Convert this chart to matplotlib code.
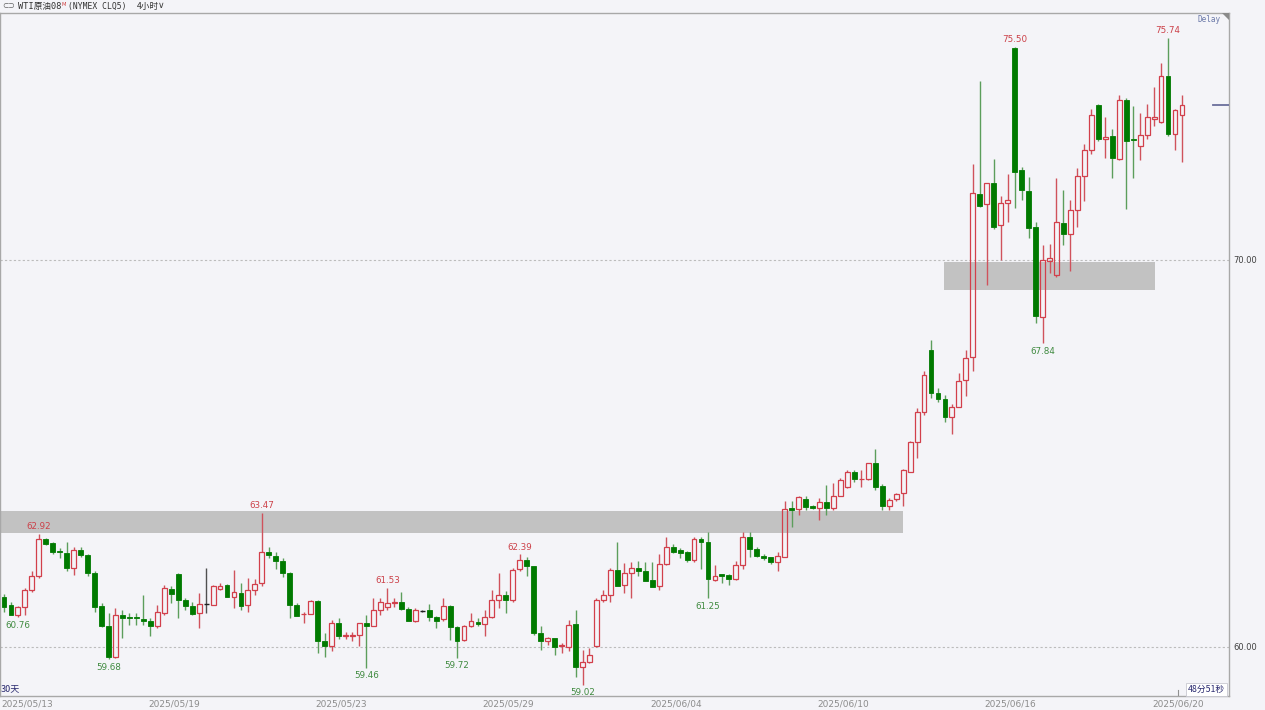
import matplotlib
matplotlib.use("Agg")
from matplotlib import pyplot as plt
from matplotlib.patches import Rectangle, Polygon
import numpy as np

# 4-hour candles, WTI crude, 2025/05/13 - 2025/06/20
opens = [61.30, 61.09, 60.83, 61.04, 61.46, 61.84, 62.78, 62.68, 62.47, 62.42,
         62.03, 62.51, 62.38, 61.91, 61.06, 60.54, 59.75, 60.83, 60.77, 60.77,
         60.72, 60.68, 60.55, 60.87, 61.49, 61.89, 61.20, 61.06, 60.87, 61.11,
         61.09, 61.50, 61.60, 61.30, 61.39, 61.07, 61.47, 61.66, 62.44, 62.35,
         62.22, 61.92, 61.09, 60.84, 60.85, 61.19, 60.14, 60.03, 60.61, 60.28,
         60.29, 60.30, 60.61, 60.54, 60.94, 61.04, 61.13, 61.16, 60.98, 60.68,
         60.93, 60.96, 60.77, 60.72, 61.06, 60.51, 60.18, 60.54, 60.63, 60.58,
         60.77, 61.20, 61.34, 61.20, 62.01, 62.25, 62.09, 60.35, 60.14, 60.23,
         60.03, 59.99, 60.59, 59.48, 59.60, 60.01, 61.22, 61.34, 61.99, 61.60,
         61.92, 62.03, 61.97, 61.73, 61.56, 62.14, 62.59, 62.49, 62.46, 62.25,
         62.78, 62.70, 61.73, 61.87, 61.86, 61.75, 62.12, 62.83, 62.54, 62.35,
         62.32, 62.18, 62.33, 63.58, 63.56, 63.82, 63.64, 63.58, 63.75, 63.58,
         63.90, 64.12, 64.51, 64.33, 64.34, 64.75, 64.16, 63.65, 63.82, 63.97,
         64.53, 65.29, 66.07, 67.67, 66.57, 66.41, 65.94, 66.21, 66.90, 67.49,
         71.71, 71.44, 71.98, 70.89, 71.48, 75.48, 72.31, 71.79, 70.84, 68.52,
         69.98, 69.61, 70.96, 70.67, 71.29, 72.18, 72.84, 74.01, 73.12, 73.20,
         72.60, 74.13, 73.12, 72.95, 73.23, 73.65, 73.57, 74.74, 73.26, 73.75]
highs = [61.36, 61.17, 61.06, 61.53, 61.95, 62.92, 62.82, 62.71, 62.55, 62.70,
         62.59, 62.59, 62.40, 61.95, 61.14, 60.87, 61.00, 60.96, 60.87, 60.87,
         61.34, 60.74, 61.09, 61.60, 61.56, 61.92, 61.26, 61.17, 61.39, 62.03,
         61.60, 61.66, 61.62, 61.99, 61.65, 61.78, 61.75, 63.47, 62.59, 62.46,
         62.29, 61.93, 61.14, 60.91, 61.20, 61.20, 60.37, 60.70, 60.74, 60.39,
         60.39, 60.62, 60.83, 61.26, 61.26, 61.53, 61.26, 61.43, 61.03, 61.00,
         60.96, 61.11, 60.80, 61.26, 61.09, 60.53, 60.57, 60.87, 60.74, 60.96,
         61.47, 61.90, 61.45, 62.03, 62.39, 62.33, 62.10, 60.53, 60.25, 60.24,
         60.10, 60.70, 60.96, 59.92, 59.97, 61.26, 61.47, 62.03, 62.72, 62.16,
         62.20, 62.23, 62.18, 62.18, 62.40, 62.83, 62.65, 62.55, 62.47, 62.83,
         62.83, 62.98, 62.12, 61.89, 61.88, 62.23, 62.98, 62.98, 62.59, 62.40,
         62.33, 62.44, 63.76, 63.78, 63.89, 63.89, 63.67, 63.84, 64.19, 64.23,
         64.36, 64.56, 64.58, 64.58, 64.76, 65.11, 64.20, 63.84, 63.98, 64.60,
         65.31, 66.17, 67.12, 67.93, 66.69, 66.51, 66.28, 67.07, 67.66, 72.48,
         74.61, 71.99, 72.60, 71.64, 72.22, 75.50, 72.41, 72.15, 70.99, 70.39,
         70.41, 72.11, 71.81, 71.55, 72.37, 72.99, 73.89, 74.02, 73.69, 73.38,
         74.27, 74.18, 73.98, 73.79, 74.03, 74.48, 75.08, 75.74, 73.90, 74.27]
lows = [60.91, 60.82, 60.76, 60.83, 61.43, 61.78, 62.62, 62.40, 62.29, 61.95,
        61.86, 62.32, 61.82, 60.91, 60.51, 59.68, 59.71, 60.23, 60.57, 60.57,
        60.57, 60.27, 60.49, 60.83, 61.13, 60.74, 60.96, 60.83, 60.49, 60.87,
        61.09, 61.46, 61.29, 61.00, 60.94, 60.91, 61.34, 61.56, 62.29, 62.01,
        61.80, 60.74, 60.79, 60.61, 60.84, 59.84, 59.75, 59.88, 60.21, 60.20,
        60.14, 60.01, 59.46, 60.53, 60.83, 60.96, 61.04, 60.96, 60.67, 60.63,
        60.89, 60.68, 60.49, 60.66, 60.18, 59.72, 60.16, 60.51, 60.54, 60.28,
        60.74, 61.00, 60.87, 61.17, 61.95, 61.82, 60.31, 59.92, 60.05, 59.79,
        59.84, 59.88, 59.23, 59.02, 59.58, 60.00, 61.17, 61.17, 61.56, 61.40,
        61.26, 61.82, 61.69, 61.54, 61.46, 62.12, 62.42, 62.29, 62.18, 62.20,
        62.00, 61.25, 61.71, 61.65, 61.60, 61.73, 62.01, 62.33, 62.33, 62.25,
        62.14, 61.95, 62.32, 63.11, 63.41, 63.54, 63.56, 63.28, 63.41, 63.54,
        63.89, 64.10, 64.26, 64.13, 64.32, 64.06, 63.54, 63.54, 63.76, 63.63,
        64.51, 64.88, 65.99, 66.43, 66.34, 65.82, 65.50, 66.19, 66.49, 67.12,
        71.36, 69.35, 70.79, 70.00, 70.99, 71.34, 71.55, 70.56, 68.36, 67.84,
        69.66, 69.55, 70.39, 69.70, 70.86, 71.53, 72.74, 73.06, 72.63, 72.11,
        72.58, 71.31, 72.11, 72.58, 73.12, 73.45, 73.53, 73.20, 72.83, 72.54]
closes = [61.04, 60.83, 61.04, 61.46, 61.84, 62.78, 62.66, 62.44, 62.44, 62.03,
          62.49, 62.38, 61.91, 61.04, 60.53, 59.74, 60.83, 60.74, 60.75, 60.74,
          60.68, 60.54, 60.90, 61.52, 61.37, 61.22, 61.06, 60.85, 61.11, 61.11,
          61.56, 61.58, 61.30, 61.41, 61.06, 61.47, 61.62, 62.44, 62.38, 62.22,
          61.90, 61.09, 60.80, 60.86, 61.19, 60.14, 60.03, 60.61, 60.27, 60.30,
          60.31, 60.61, 60.54, 60.96, 61.15, 61.13, 61.17, 60.98, 60.68, 60.96,
          60.93, 60.77, 60.68, 61.06, 60.51, 60.16, 60.54, 60.66, 60.58, 60.77,
          61.20, 61.34, 61.20, 61.99, 62.25, 62.08, 60.35, 60.14, 60.23, 59.99,
          60.05, 60.57, 59.48, 59.60, 59.79, 61.22, 61.34, 61.99, 61.58, 61.92,
          62.03, 61.97, 61.70, 61.55, 62.14, 62.59, 62.46, 62.42, 62.25, 62.78,
          62.70, 61.75, 61.84, 61.84, 61.75, 62.12, 62.83, 62.52, 62.35, 62.29,
          62.20, 62.35, 63.56, 63.54, 63.87, 63.61, 63.60, 63.75, 63.58, 63.90,
          64.30, 64.51, 64.34, 64.35, 64.75, 64.14, 63.64, 63.80, 63.95, 64.58,
          65.29, 66.07, 67.03, 66.57, 66.40, 65.94, 66.21, 66.88, 67.46, 71.73,
          71.40, 71.98, 70.86, 71.48, 71.55, 72.28, 71.81, 70.82, 68.54, 70.00,
          70.04, 70.97, 70.67, 71.29, 72.18, 72.84, 73.75, 73.12, 73.18, 72.63,
          74.13, 73.08, 73.10, 73.23, 73.69, 73.68, 74.74, 73.26, 73.88, 74.01]

date_labels = ["2025/05/13", "2025/05/19", "2025/05/23", "2025/05/29",
               "2025/06/04", "2025/06/10", "2025/06/16", "2025/06/20"]
date_index = [0, 24, 48, 72, 96, 120, 144, 168]

# marked highs / lows (candle index)
high_marks = [5, 37, 55, 74, 145, 167]
low_marks = [2, 15, 52, 65, 83, 101, 149]

# grey zones: candle index span and price range
zone_x0 = [-0.6, 134.9]
zone_x1 = [129.0, 165.1]
zone_lo = [62.95, 69.22]
zone_hi = [63.51, 69.95]

BG = '#f4f4f8'
RED = '#d23f4b'
RED_WICK = '#d0525c'
GREEN = '#007a00'
GREEN_WICK = '#5c9e5c'
CJK = ['Noto Sans CJK SC', 'DejaVu Sans']
MONO = ['DejaVu Sans Mono', 'Noto Sans CJK SC']

W, H = 1265, 710
def px(x, y):
    return x / W, 1 - y / H

fig = plt.figure(figsize=(W / 100, H / 100), dpi=100, facecolor=BG)
ax = fig.add_axes([0, 14 / H, 1229 / W, (696 - 13) / H])
ax.set_facecolor(BG)
ax.set_xlim(-0.57, 175.75)
ax.set_ylim(58.73, 76.38)

for s in ax.spines.values():
    s.set_color('#a8a8a8')
    s.set_linewidth(1.0)

# dashed reference lines
for lvl in [60, 70]:
    ax.axhline(lvl, color='#bcbcbc', lw=0.8, dashes=(2, 2), zorder=1)

# zones
for x0, x1, lo, hi in zip(zone_x0, zone_x1, zone_lo, zone_hi):
    ax.add_patch(Rectangle((x0, lo), x1 - x0, hi - lo, facecolor='#c2c2c2',
                           edgecolor='none', zorder=2))

bw = 0.7
for i in range(len(opens)):
    o, h, l, c = opens[i], highs[i], lows[i], closes[i]
    top, bot = max(o, c), min(o, c)
    if c > o:
        col, wcol = RED, RED_WICK
    elif c < o:
        col, wcol = GREEN, GREEN_WICK
    else:
        col, wcol = '#202020', '#505050'
    ax.vlines(i, top, h, color=wcol, lw=1.0, zorder=3)
    ax.vlines(i, l, bot, color=wcol, lw=1.0, zorder=3)
    if c > o:
        ax.add_patch(Rectangle((i - bw / 2, bot), bw, top - bot, facecolor='none',
                               edgecolor=col, lw=0.9, zorder=4))
    elif c < o:
        ax.add_patch(Rectangle((i - bw / 2, bot), bw, top - bot, facecolor=col,
                               edgecolor=col, lw=0.6, zorder=4))
    else:
        ax.hlines(o, i - bw / 2, i + bw / 2, color=col, lw=1.0, zorder=4)

for i in high_marks:
    ax.annotate('%.2f' % highs[i], (i, highs[i]), xytext=(0, 2), textcoords='offset points',
                ha='center', va='bottom', fontsize=6.3, color='#cc4048', zorder=5)
for i in low_marks:
    ax.annotate('%.2f' % lows[i], (i, lows[i]), xytext=(0, -2.5), textcoords='offset points',
                ha='center', va='top', fontsize=6.3, color='#3f8a3f', zorder=5)

# current price marker
ax.axhline(closes[-1], xmin=1213 / 1229, xmax=1.0, color='#6a6e9c', lw=1.3, zorder=5)

# axes ticks
ax.yaxis.tick_right()
ax.set_yticks([60, 70])
ax.set_yticklabels(['60.00', '70.00'])
ax.tick_params(axis='y', length=0, pad=3, labelsize=6, labelcolor='#404040')
ax.set_xticks([d + 0.4 for d in date_index[1:]])
ax.set_xticklabels(date_labels[1:])
ax.tick_params(axis='x', length=0, pad=2.5, labelsize=6.5, labelcolor='#8c8c8c')
ax.annotate(date_labels[0], (0, 0), xycoords='axes fraction', xytext=(1, -2.5),
            textcoords='offset points', ha='left', va='top', fontsize=6.5, color='#8c8c8c')

# header
fig.text(*px(2, 6), '⊂⊃', fontsize=5.5, color='#606060', va='center', family='DejaVu Sans')
fig.text(*px(18, 6), 'WTI原油08', fontsize=6.2, color='#303030', va='center', family=MONO)
fig.text(*px(62, 4), 'M', fontsize=3.8, color='#d04040', va='center', family='DejaVu Sans')
fig.text(*px(68, 6), '(NYMEX CLQ5)', fontsize=5.8, color='#303030', va='center', family=MONO)
fig.text(*px(137, 6), '4小时', fontsize=6.2, color='#303030', va='center', family=CJK)
fig.text(*px(158, 6), '∨', fontsize=6.5, color='#404040', va='center', family='DejaVu Sans')

# top right "Delay" with corner mark
fig.text(*px(1197, 19.5), 'Delay', fontsize=5.5, color='#6a78a8', va='center', family=MONO)
fig.add_artist(Polygon([px(1222, 13), px(1229, 13), px(1229, 20)], closed=True,
                       transform=fig.transFigure, facecolor='#8a8a8a', edgecolor='none'))

# bottom notes
fig.text(*px(1, 689), '30天', fontsize=6.5, color='#2a2a70', va='center', family=CJK)
fig.text(*px(1188, 689.5), '48分51秒', fontsize=6.3, color='#2a2a70', va='center', family=CJK,
         bbox=dict(boxstyle='square,pad=0.2', facecolor='white', edgecolor='#c8c8d0', lw=0.6))
fig.add_artist(plt.Line2D([1178 / W, 1178 / W], [1 - 690 / H, 1 - 695 / H],
                          transform=fig.transFigure, color='#909090', lw=0.8))

fig.savefig('out.png', dpi=100, facecolor=BG)
